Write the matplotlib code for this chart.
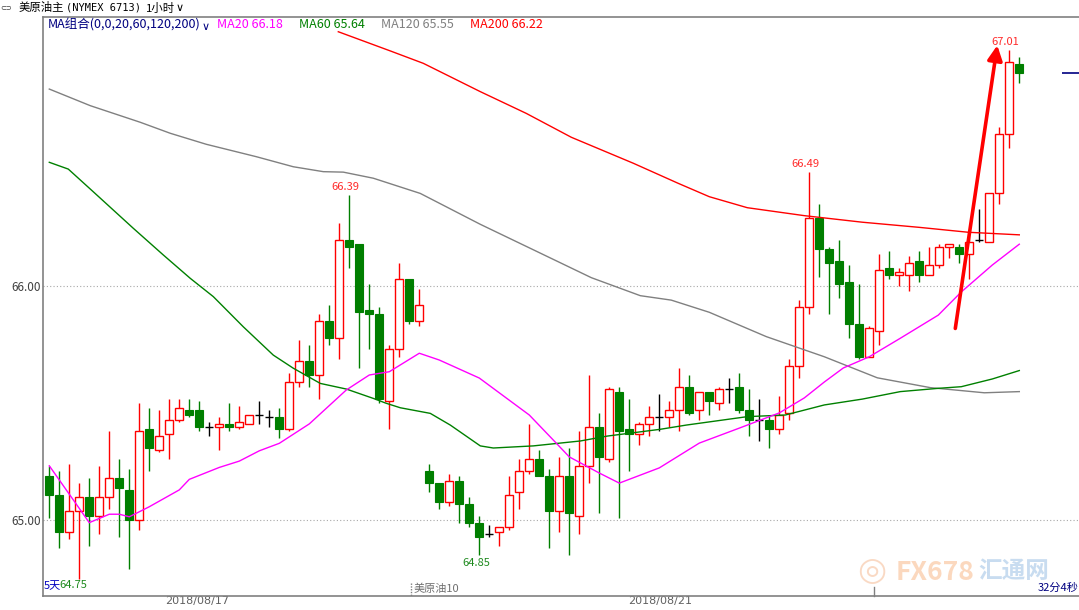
import matplotlib
matplotlib.use('Agg')
import matplotlib.pyplot as plt
from matplotlib.patches import Rectangle
from matplotlib.lines import Line2D

plt.rcParams['font.family'] = ['Noto Sans CJK SC', 'DejaVu Sans']

# 1 hour candles, NYMEX crude
opens = [65.19, 65.11, 64.95, 65.04, 65.10, 65.02, 65.10, 65.18, 65.13, 65.00,
         65.39, 65.30, 65.37, 65.43, 65.47, 65.47, 65.40, 65.40, 65.41, 65.40,
         65.41, 65.45, 65.44, 65.44, 65.39, 65.59, 65.68, 65.62, 65.85, 65.78,
         66.20, 66.18, 65.90, 65.88, 65.51, 65.73, 66.03, 65.85, 65.21, 65.16,
         65.08, 65.17, 65.07, 64.99, 64.94, 64.95, 64.97, 65.12, 65.21, 65.26,
         65.19, 65.04, 65.19, 65.02, 65.23, 65.40, 65.26, 65.55, 65.39, 65.37,
         65.41, 65.44, 65.44, 65.47, 65.57, 65.47, 65.55, 65.50, 65.56, 65.57,
         65.47, 65.43, 65.43, 65.39, 65.46, 65.66, 65.91, 66.29, 66.16, 66.11,
         66.02, 65.84, 65.70, 65.81, 66.08, 66.05, 66.05, 66.11, 66.05, 66.09,
         66.17, 66.17, 66.14, 66.20, 66.19, 66.40, 66.65, 66.95]
highs = [65.23, 65.21, 65.24, 65.16, 65.18, 65.23, 65.38, 65.26, 65.22, 65.50,
         65.48, 65.47, 65.52, 65.52, 65.52, 65.51, 65.42, 65.44, 65.50, 65.49,
         65.45, 65.51, 65.47, 65.48, 65.63, 65.77, 65.75, 65.88, 65.92, 66.27,
         66.39, 66.18, 66.01, 65.91, 65.75, 66.10, 66.03, 65.99, 65.24, 65.16,
         65.20, 65.19, 65.10, 65.02, 64.98, 64.97, 65.19, 65.26, 65.41, 65.30,
         65.22, 65.27, 65.31, 65.38, 65.62, 65.46, 65.57, 65.57, 65.52, 65.42,
         65.49, 65.54, 65.51, 65.65, 65.62, 65.55, 65.55, 65.57, 65.61, 65.63,
         65.56, 65.52, 65.45, 65.53, 65.69, 65.94, 66.49, 66.35, 66.17, 66.20,
         66.09, 66.01, 65.83, 66.14, 66.15, 66.08, 66.13, 66.15, 66.17, 66.18,
         66.18, 66.18, 66.23, 66.33, 66.40, 66.68, 67.01, 66.98]
lows = [65.01, 64.88, 64.92, 64.75, 64.89, 64.94, 65.05, 64.93, 64.79, 64.96,
        65.21, 65.29, 65.26, 65.42, 65.44, 65.38, 65.36, 65.30, 65.38, 65.39,
        65.41, 65.41, 65.40, 65.35, 65.38, 65.57, 65.57, 65.52, 65.75, 65.69,
        66.08, 65.65, 65.73, 65.50, 65.39, 65.70, 65.84, 65.83, 65.12, 65.05,
        65.06, 64.99, 64.97, 64.85, 64.93, 64.89, 64.96, 65.05, 65.20, 65.19,
        64.88, 64.95, 64.85, 64.94, 65.16, 65.03, 65.25, 65.01, 65.21, 65.32,
        65.36, 65.38, 65.40, 65.38, 65.45, 65.43, 65.45, 65.47, 65.50, 65.46,
        65.36, 65.34, 65.31, 65.37, 65.43, 65.61, 65.88, 66.04, 65.88, 65.95,
        65.78, 65.69, 65.70, 65.75, 66.03, 66.00, 65.98, 66.02, 66.05, 66.08,
        66.12, 66.10, 66.03, 66.19, 66.19, 66.35, 66.59, 66.87]
closes = [65.11, 64.95, 65.04, 65.10, 65.02, 65.10, 65.18, 65.14, 65.00, 65.38,
          65.31, 65.36, 65.43, 65.48, 65.45, 65.40, 65.40, 65.41, 65.40, 65.42,
          65.45, 65.45, 65.44, 65.39, 65.59, 65.68, 65.62, 65.85, 65.78, 66.20,
          66.17, 65.89, 65.88, 65.52, 65.73, 66.03, 65.85, 65.92, 65.16, 65.08,
          65.17, 65.07, 64.99, 64.93, 64.94, 64.97, 65.11, 65.21, 65.26, 65.19,
          65.04, 65.19, 65.03, 65.23, 65.40, 65.27, 65.56, 65.38, 65.37, 65.41,
          65.44, 65.44, 65.47, 65.57, 65.46, 65.55, 65.51, 65.56, 65.56, 65.47,
          65.43, 65.43, 65.39, 65.45, 65.66, 65.91, 66.29, 66.16, 66.10, 66.01,
          65.84, 65.70, 65.82, 66.07, 66.05, 66.06, 66.10, 66.05, 66.09, 66.17,
          66.18, 66.14, 66.19, 66.20, 66.40, 66.65, 66.96, 66.91]

# moving averages, sampled along the drawn lines (x = candle index)
ma20_x = [0, 4, 6, 7, 8, 10, 13, 14, 17, 19, 21, 23, 26, 29.7, 32, 34, 37, 39, 43,
          48, 50.4, 52, 55, 57, 61, 65, 69, 73, 75.5, 77.5, 79.4, 82, 85.1, 88.9,
          91.2, 94.3, 97]
ma20_y = [65.233, 64.990, 65.026, 65.026, 65.015, 65.058, 65.130, 65.175, 65.226,
          65.253, 65.297, 65.329, 65.412, 65.557, 65.621, 65.635, 65.714, 65.685,
          65.608, 65.450, 65.343, 65.271, 65.202, 65.159, 65.224, 65.330, 65.394,
          65.459, 65.523, 65.591, 65.651, 65.699, 65.778, 65.877, 65.976, 66.091,
          66.18]
ma60_x = [0, 1.9, 4.4, 8.4, 11.4, 14.1, 16.4, 19.4, 22.4, 24.4, 27.1, 29.7, 32.4,
          33.7, 35.1, 38.1, 40.1, 43.1, 44.4, 48.4, 53.1, 55.8, 61.1, 63.7, 69.8,
          73.6, 77.5, 81.3, 85.1, 88.9, 91.2, 94.3, 97]
ma60_y = [66.530, 66.501, 66.404, 66.248, 66.134, 66.034, 65.956, 65.827, 65.706,
          65.650, 65.585, 65.561, 65.521, 65.500, 65.481, 65.457, 65.407, 65.318,
          65.309, 65.318, 65.339, 65.360, 65.389, 65.407, 65.443, 65.450, 65.493,
          65.518, 65.550, 65.564, 65.571, 65.604, 65.64]
ma120_x = [0, 4.1, 9.1, 12.1, 15.7, 20.7, 24.4, 27.4, 29.4, 32.4, 37.1, 43.1, 48.8,
           54.2, 59.1, 62.2, 66, 71.7, 77.5, 82.8, 88.1, 93.5, 97]
ma120_y = [66.843, 66.772, 66.701, 66.654, 66.607, 66.554, 66.511, 66.490, 66.488,
           66.462, 66.397, 66.265, 66.148, 66.037, 65.960, 65.941, 65.889, 65.785,
           65.699, 65.609, 65.567, 65.545, 65.55]
ma200_x = [28.9, 34.1, 37.4, 43.1, 47.7, 52.2, 58.4, 62.9, 66, 69.8, 75.5, 81.3,
           87, 91.9, 97]
ma200_y = [67.088, 67.006, 66.953, 66.832, 66.739, 66.637, 66.526, 66.440, 66.383,
           66.336, 66.302, 66.274, 66.252, 66.231, 66.22]

hi_marks = [30, 76, 96]     # candles with a printed high
lo_marks = [43]             # candles with a printed low
date_labels = ['2018/08/17', '2018/08/21']
date_pos = [14.8, 61.1]

W, H = 1079, 610
fig = plt.figure(figsize=(W / 100, H / 100), dpi=100)


def fx(px):
    return px / W


def fy(py):
    return 1 - py / H


RED = '#FF0000'
GREEN = '#007F00'

ax = fig.add_axes([fx(43.3), fy(596), fx(1079) - fx(43.3), fy(17) - fy(596)])
ax.set_xlim(-0.6, 102.97)
ax.set_ylim(64.6765, 67.151)
for s in ax.spines.values():
    s.set_visible(False)
ax.set_xticks([])
ax.set_yticks([65, 66])
ax.set_yticklabels(['65.00', '66.00'], fontsize=8.5, color='#404040')
ax.tick_params(axis='y', length=0, pad=2)

# dotted price grid
for lv in [65, 66]:
    ax.axhline(lv, color='#A8A8A8', lw=0.8, ls=(0, (1, 2)), zorder=0)

# candles
bw = 0.8
for i in range(len(opens)):
    o, h, l, c = opens[i], highs[i], lows[i], closes[i]
    if c > o:
        ax.vlines(i, c, h, color=RED, lw=1, zorder=2)
        ax.vlines(i, l, o, color=RED, lw=1, zorder=2)
        ax.add_patch(Rectangle((i - bw / 2, o), bw, c - o, facecolor='white',
                               edgecolor=RED, lw=1.0, zorder=2))
    elif c < o:
        ax.vlines(i, l, h, color=GREEN, lw=1, zorder=2)
        ax.add_patch(Rectangle((i - bw / 2, c), bw, o - c, facecolor=GREEN,
                               edgecolor=GREEN, lw=0.8, zorder=2))
    else:
        ax.vlines(i, l, h, color='black', lw=1, zorder=2)
        ax.hlines(o, i - bw / 2, i + bw / 2, color='black', lw=1, zorder=2)

# moving averages
ax.plot(ma120_x, ma120_y, color='#808080', lw=1, zorder=3)
ax.plot(ma200_x, ma200_y, color=RED, lw=1, zorder=3)
ax.plot(ma60_x, ma60_y, color='#008000', lw=1, zorder=3)
ax.plot(ma20_x, ma20_y, color='#FF00FF', lw=1, zorder=3)

# high / low marks
for i in hi_marks:
    ax.annotate(f'{highs[i]:.2f}', (i, highs[i]), xytext=(-3, 2),
                textcoords='offset points', ha='center', va='bottom',
                fontsize=8, color='#FF2A2A', zorder=5)
for i in lo_marks:
    ax.annotate(f'{lows[i]:.2f}', (i, lows[i]), xytext=(-2, -2),
                textcoords='offset points', ha='center', va='top',
                fontsize=8, color='#1E8A1E', zorder=5)
lowest = lows.index(min(lows))
ax.annotate(f'{lows[lowest]:.2f}', (lowest, lows[lowest]), xytext=(-4, -1),
            textcoords='offset points', ha='center', va='top',
            fontsize=8, color='#1E8A1E', zorder=5)

# last price marker
ax.hlines(closes[-1], 101.3, 103, color='#000080', lw=1.2, zorder=3)

# red trend arrow
ax.annotate('', xy=(94.8, 67.03), xytext=(90.6, 65.82),
            arrowprops=dict(arrowstyle='-|>', color=RED, lw=2.6,
                            mutation_scale=22, shrinkA=0, shrinkB=0),
            zorder=6)

# frame
fig.add_artist(Line2D([fx(43.3), 1], [fy(16.7), fy(16.7)], color='#808080', lw=1.2))
fig.add_artist(Line2D([fx(43.3), fx(43.3)], [fy(16.7), fy(596)], color='#808080', lw=1.2))
fig.add_artist(Line2D([fx(43.3), 1], [fy(596), fy(596)], color='#808080', lw=1.2))
fig.add_artist(Line2D([fx(874), fx(874)], [fy(587), fy(596)], color='#808080', lw=1))
fig.add_artist(Line2D([fx(411), fx(411)], [fy(583), fy(596)], color='#808080', lw=1,
                      ls=(0, (1, 1))))

# title bar
fig.text(fx(0), fy(8), '⊂⊃', fontsize=5, color='#333333', va='center', ha='left',
         family=['DejaVu Sans'])
fig.text(fx(19), fy(8), '美原油主', fontsize=8.2, color='black', va='center', ha='left')
fig.text(fx(66), fy(8), '(NYMEX 6713)', fontsize=7.5, color='black', va='center',
         ha='left', family=['DejaVu Sans Mono'])
fig.text(fx(146), fy(8), '1小时', fontsize=8.2, color='black', va='center', ha='left')
fig.text(fx(176), fy(8), '∨', fontsize=8, color='black', va='center', ha='left',
         family=['DejaVu Sans'])

# MA legend line
fig.text(fx(48), fy(25), 'MA组合(0,0,20,60,120,200)', fontsize=9, color='#000080',
         va='center', ha='left')
fig.text(fx(202), fy(27), '∨', fontsize=8, color='#000080', va='center', ha='left',
         family=['DejaVu Sans'])
fig.text(fx(217), fy(25), f'MA20 {ma20_y[-1]:.2f}', fontsize=9, color='#FF00FF',
         va='center', ha='left')
fig.text(fx(299), fy(25), f'MA60 {ma60_y[-1]:.2f}', fontsize=9, color='#008000',
         va='center', ha='left')
fig.text(fx(381), fy(25), f'MA120 {ma120_y[-1]:.2f}', fontsize=9, color='#808080',
         va='center', ha='left')
fig.text(fx(470), fy(25), f'MA200 {ma200_y[-1]:.2f}', fontsize=9, color=RED,
         va='center', ha='left')

# bottom labels
for lab, p in zip(date_labels, date_pos):
    ax.text(p, 0, lab, transform=ax.get_xaxis_transform(), fontsize=8,
            color='#606060', ha='center', va='top', clip_on=False,
            family=['DejaVu Sans'])
fig.text(fx(44), fy(586), '5天', fontsize=8, color='#0000C0', va='center', ha='left')
fig.text(fx(414), fy(589), '美原油10', fontsize=8, color='#707070', va='center', ha='left')
fig.text(fx(1079), fy(588), '32分4秒', fontsize=8, color='#000080', va='center', ha='right')

# watermark
fig.text(fx(872), fy(571), '◎', fontsize=24, color='#F5B58A', alpha=0.5,
         va='center', ha='center', family=['DejaVu Sans'])
fig.text(fx(896), fy(572), 'FX678', fontsize=19, color='#F8B98A', alpha=0.55,
         va='center', ha='left', weight='bold')
fig.text(fx(978), fy(571), '汇通网', fontsize=17, color='#9CC0E4', alpha=0.55,
         va='center', ha='left', weight='bold')

fig.savefig('out.png', dpi=100)
